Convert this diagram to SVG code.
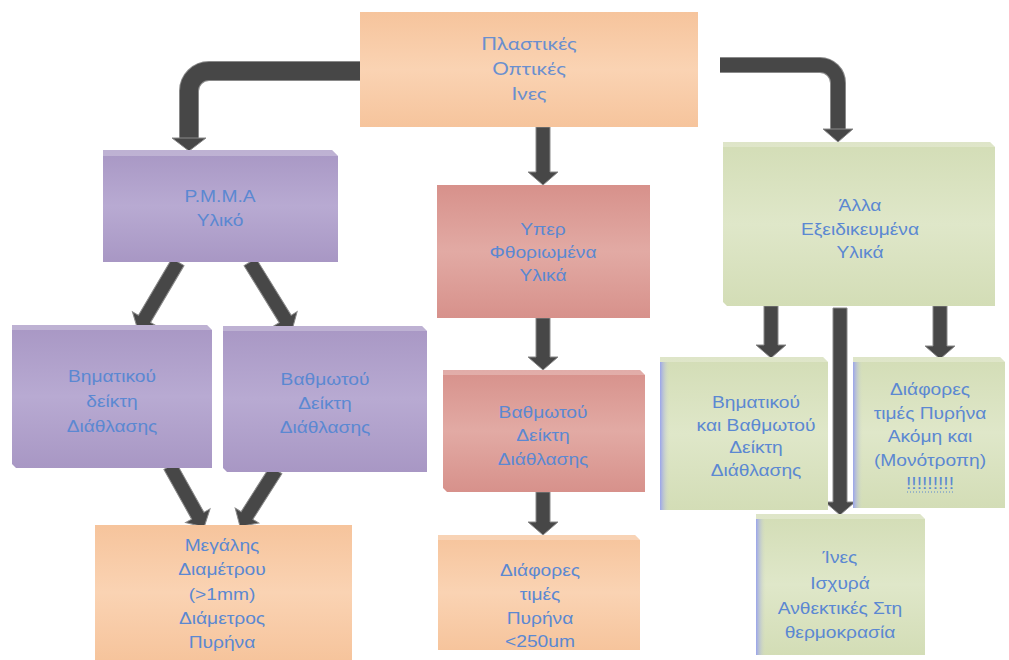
<svg xmlns="http://www.w3.org/2000/svg" width="1009" height="660" viewBox="0 0 1009 660">
  <defs>
    <linearGradient id="gPeach" x1="0" y1="0" x2="0" y2="1">
      <stop offset="0" stop-color="#f6c49c"/>
      <stop offset="0.5" stop-color="#fad3b3"/>
      <stop offset="1" stop-color="#f6c49c"/>
    </linearGradient>
    <linearGradient id="gPurple" x1="0" y1="0" x2="0" y2="1">
      <stop offset="0" stop-color="#a897c4"/>
      <stop offset="0.5" stop-color="#b8aad2"/>
      <stop offset="1" stop-color="#a897c4"/>
    </linearGradient>
    <linearGradient id="gRed" x1="0" y1="0" x2="0" y2="1">
      <stop offset="0" stop-color="#d7918b"/>
      <stop offset="0.5" stop-color="#e2aaa4"/>
      <stop offset="1" stop-color="#d7918b"/>
    </linearGradient>
    <linearGradient id="gGreen" x1="0" y1="0" x2="0" y2="1">
      <stop offset="0" stop-color="#d3ddb6"/>
      <stop offset="0.5" stop-color="#dfe7c9"/>
      <stop offset="1" stop-color="#d3ddb6"/>
    </linearGradient>
    <linearGradient id="gEdge" x1="0" y1="0" x2="1" y2="0">
      <stop offset="0" stop-color="#9aa4ec"/>
      <stop offset="1" stop-color="#d6dfbc" stop-opacity="0"/>
    </linearGradient>
  </defs>
  <style>
    .lbl { font-family: "Liberation Sans", Arial, sans-serif; font-size: 16px; fill: #5b88d2; text-anchor: middle; }
    .top { font-family: Lato, "Liberation Sans", sans-serif; font-size: 17px; fill: #6a8fcf; text-anchor: middle; }
    .hi { fill: #ffffff; opacity: 0.25; }
    .arrow { fill: #474747; stroke: #8a8a8a; stroke-width: 1; }
    .pipe { fill: none; stroke: #474747; stroke-linejoin: round; }
    .pipe-edge { fill: none; stroke: #8a8a8a; stroke-linejoin: round; }
  </style>

  <!-- connectors -->
  <g id="connectors">
    <!-- elbow from the root to P.M.M.A -->
    <path class="pipe-edge" stroke-width="20" d="M 362,71 H 209 A 20,20 0 0 0 189,91 V 139"/>
    <path class="pipe" stroke-width="18" d="M 362,71 H 209 A 20,20 0 0 0 189,91 V 139"/>
    <path class="arrow" d="M 172,138 H 206 L 189,151 Z"/>
    <!-- elbow from the root to the specialised materials -->
    <path class="pipe-edge" stroke-width="16" d="M 720,65 H 820 A 18,18 0 0 1 838,83 V 130"/>
    <path class="pipe" stroke-width="14" d="M 720,65 H 820 A 18,18 0 0 1 838,83 V 130"/>
    <path class="arrow" d="M 823,129 H 853 L 838,142 Z"/>

    <!-- straight down arrows -->
    <path class="arrow" d="M 536,127 H 550 V 172 H 558 L 543,185 L 528,172 H 536 Z"/>
    <path class="arrow" d="M 536,318 H 550 V 357 H 558 L 543,370 L 528,357 H 536 Z"/>
    <path class="arrow" d="M 536,492 H 550 V 522 H 558 L 543,535 L 528,522 H 536 Z"/>
    <path class="arrow" d="M 764,306 H 778 V 345 H 786 L 771,358 L 756,345 H 764 Z"/>
    <path class="arrow" d="M 933,306 H 947 V 346 H 955 L 940,359 L 925,346 H 933 Z"/>
    <path class="arrow" d="M 833,308 H 847 V 502 H 855 L 840,515 L 825,502 H 833 Z"/>

    <!-- slanted arrows (drawn pointing down +y, then rotated) -->
    <path class="arrow" transform="translate(178,262) rotate(30.5)" d="M -7,0 H 7 V 66 H 14 L 0,79 L -14,66 H -7 Z"/>
    <path class="arrow" transform="translate(250,262) rotate(-31.7)" d="M -7,0 H 7 V 67 H 14 L 0,80 L -14,67 H -7 Z"/>
    <path class="arrow" transform="translate(170,466) rotate(-29.2)" d="M -7,0 H 7 V 57 H 14 L 0,70 L -14,57 H -7 Z"/>
    <path class="arrow" transform="translate(276,470) rotate(32.5)" d="M -7,0 H 7 V 54 H 14 L 0,67 L -14,54 H -7 Z"/>
  </g>

  <!-- root -->
  <g id="plastic-fibres">
    <rect x="360" y="12" width="338" height="115" fill="url(#gPeach)"/>
    <g transform="translate(529,0) scale(1.22,1)">
      <text class="top" x="0" y="50">Πλαστικές</text>
      <text class="top" x="0" y="75">Οπτικές</text>
      <text class="top" x="0" y="100">Ινες</text>
    </g>
  </g>

  <!-- left branch -->
  <g id="pmma">
    <path d="M 103,150 H 332 L 338,156 V 262 H 103 Z" fill="url(#gPurple)"/>
    <path class="hi" d="M 103,150 H 332 L 338,156 H 103 Z"/>
    <g transform="translate(220,0) scale(1.2,1)">
      <text class="lbl" x="0" y="202">P.M.M.A</text>
      <text class="lbl" x="0" y="226">Υλικό</text>
    </g>
  </g>
  <g id="step-index">
    <path d="M 12,325 H 207 L 212,330 V 468 H 16 L 12,464 Z" fill="url(#gPurple)"/>
    <path class="hi" d="M 12,325 H 207 L 212,330 H 12 Z"/>
    <g transform="translate(112,0) scale(1.2,1)">
      <text class="lbl" x="0" y="382">Βηματικού</text>
      <text class="lbl" x="0" y="407">δείκτη</text>
      <text class="lbl" x="0" y="432">Διάθλασης</text>
    </g>
  </g>
  <g id="graded-index-pmma">
    <path d="M 223,326 H 422 L 427,331 V 472 H 227 L 223,468 Z" fill="url(#gPurple)"/>
    <path class="hi" d="M 223,326 H 422 L 427,331 H 223 Z"/>
    <g transform="translate(325,0) scale(1.2,1)">
      <text class="lbl" x="0" y="385">Βαθμωτού</text>
      <text class="lbl" x="0" y="409">Δείκτη</text>
      <text class="lbl" x="0" y="433">Διάθλασης</text>
    </g>
  </g>
  <g id="large-diameter">
    <rect x="95" y="525" width="257" height="135" fill="url(#gPeach)"/>
    <g transform="translate(222,0) scale(1.2,1)">
      <text class="lbl" x="0" y="551">Μεγάλης</text>
      <text class="lbl" x="0" y="575">Διαμέτρου</text>
      <text class="lbl" x="0" y="600">(&gt;1mm)</text>
      <text class="lbl" x="0" y="624">Διάμετρος</text>
      <text class="lbl" x="0" y="648">Πυρήνα</text>
    </g>
  </g>

  <!-- middle branch -->
  <g id="perfluorinated">
    <rect x="437" y="185" width="213" height="133" fill="url(#gRed)"/>
    <g transform="translate(543,0) scale(1.2,1)">
      <text class="lbl" x="0" y="235">Υπερ</text>
      <text class="lbl" x="0" y="258">Φθοριωμένα</text>
      <text class="lbl" x="0" y="281">Υλικά</text>
    </g>
  </g>
  <g id="graded-index-pf">
    <path d="M 443,370 H 640 L 645,375 V 492 H 447 L 443,488 Z" fill="url(#gRed)"/>
    <path class="hi" d="M 443,370 H 640 L 645,375 H 443 Z"/>
    <g transform="translate(543,0) scale(1.2,1)">
      <text class="lbl" x="0" y="418">Βαθμωτού</text>
      <text class="lbl" x="0" y="441">Δείκτη</text>
      <text class="lbl" x="0" y="465">Διάθλασης</text>
    </g>
  </g>
  <g id="core-values">
    <path d="M 438,535 H 635 L 640,540 V 650 H 438 Z" fill="url(#gPeach)"/>
    <path class="hi" d="M 438,535 H 635 L 640,540 H 438 Z"/>
    <g transform="translate(540,0) scale(1.2,1)">
      <text class="lbl" x="0" y="576">Διάφορες</text>
      <text class="lbl" x="0" y="600">τιμές</text>
      <text class="lbl" x="0" y="624">Πυρήνα</text>
      <text class="lbl" x="0" y="647">&lt;250um</text>
    </g>
  </g>

  <!-- right branch -->
  <g id="specialised">
    <path d="M 723,142 H 990 L 995,147 V 306 H 727 L 723,302 Z" fill="url(#gGreen)"/>
    <path class="hi" d="M 723,142 H 990 L 995,147 H 723 Z"/>
    <g transform="translate(860,0) scale(1.2,1)">
      <text class="lbl" x="0" y="211">Άλλα</text>
      <text class="lbl" x="0" y="235">Εξειδικευμένα</text>
      <text class="lbl" x="0" y="258">Υλικά</text>
    </g>
  </g>
  <g id="step-and-graded">
    <path d="M 660,357 H 823 L 828,362 V 510 H 660 Z" fill="url(#gGreen)"/>
    <rect x="660" y="362" width="10" height="148" fill="url(#gEdge)"/>
    <path class="hi" d="M 660,357 H 823 L 828,362 H 660 Z"/>
    <g transform="translate(756,0) scale(1.2,1)">
      <text class="lbl" x="0" y="408">Βηματικού</text>
      <text class="lbl" x="0" y="431">και Βαθμωτού</text>
      <text class="lbl" x="0" y="453">Δείκτη</text>
      <text class="lbl" x="0" y="476">Διάθλασης</text>
    </g>
  </g>
  <g id="single-mode">
    <path d="M 853,357 H 1000 L 1005,362 V 508 H 853 Z" fill="url(#gGreen)"/>
    <rect x="853" y="362" width="10" height="146" fill="url(#gEdge)"/>
    <path class="hi" d="M 853,357 H 1000 L 1005,362 H 853 Z"/>
    <g transform="translate(930,0) scale(1.2,1)">
      <text class="lbl" x="0" y="395">Διάφορες</text>
      <text class="lbl" x="0" y="419">τιμές Πυρήνα</text>
      <text class="lbl" x="0" y="442">Ακόμη και</text>
      <text class="lbl" x="0" y="466">(Μονότροπη)</text>
      <text class="lbl" x="0" y="489">!!!!!!!!!</text>
    </g>
    <line x1="907" y1="492" x2="953" y2="492" stroke="#5b88d2" stroke-width="1" stroke-dasharray="1,2"/>
  </g>
  <g id="heat-resistant">
    <path d="M 756,514 H 920 L 925,519 V 655 H 756 Z" fill="url(#gGreen)"/>
    <rect x="756" y="519" width="10" height="136" fill="url(#gEdge)"/>
    <path class="hi" d="M 756,514 H 920 L 925,519 H 756 Z"/>
    <g transform="translate(840,0) scale(1.2,1)">
      <text class="lbl" x="0" y="563">Ίνες</text>
      <text class="lbl" x="0" y="589">Ισχυρά</text>
      <text class="lbl" x="0" y="614">Ανθεκτικές Στη</text>
      <text class="lbl" x="0" y="638">θερμοκρασία</text>
    </g>
  </g>
</svg>
